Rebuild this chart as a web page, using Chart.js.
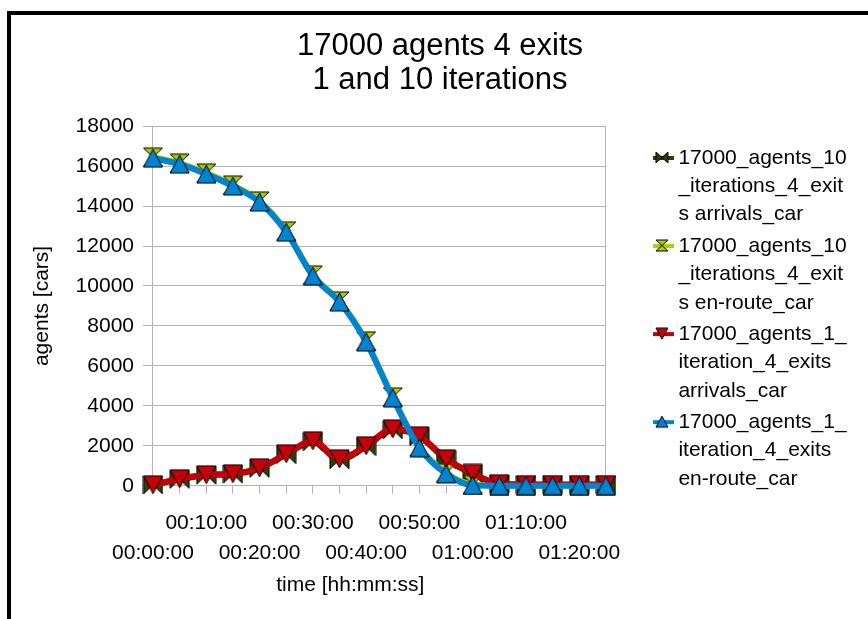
<!DOCTYPE html>
<html>
<head>
<meta charset="utf-8">
<script src="https://cdn.jsdelivr.net/npm/chart.js@4.4.6/dist/chart.umd.min.js"></script>
<style>
  html, body { margin: 0; padding: 0; background: #fff; overflow: hidden; }
</style>
</head>
<body>
<canvas id="chart" width="868" height="619"></canvas>
<script>
/* data, one point every 5 minutes */
const times = ["00:00:00", "00:05:00", "00:10:00", "00:15:00", "00:20:00", "00:25:00",
  "00:30:00", "00:35:00", "00:40:00", "00:45:00", "00:50:00", "00:55:00",
  "01:00:00", "01:05:00", "01:10:00", "01:15:00", "01:20:00", "01:25:00"];
const arrivals10 = [40, 320, 530, 580, 870, 1560, 2200, 1300, 1960, 2800, 2460, 1310, 600, 90, 50, 50, 50, 50];
const enroute10 = [16450, 16150, 15650, 15050, 14250, 12750, 10550, 9250, 7250, 4450, 1950, 650, 60, 10, 0, 0, 0, 0];
const arrivals1 = [50, 350, 550, 600, 900, 1600, 2250, 1350, 2000, 2850, 2500, 1350, 620, 100, 60, 60, 60, 60];
const enroute1 = [16400, 16100, 15600, 15000, 14200, 12700, 10500, 9200, 7200, 4400, 1900, 600, 20, 0, 0, 0, 0, 0];

const seriesNames = [
  ["17000_agents_10", "_iterations_4_exit", "s arrivals_car"],
  ["17000_agents_10", "_iterations_4_exit", "s en-route_car"],
  ["17000_agents_1_", "iteration_4_exits", "arrivals_car"],
  ["17000_agents_1_", "iteration_4_exits", "en-route_car"]
];
const colors = ["#314004", "#aecf00", "#c5000b", "#0084d1"];
const shapes = ["bowtie", "hourglass", "down", "up"];

const FONT = "'Liberation Sans', Arial, sans-serif";

/* marker symbols drawn on small canvases */
function shapePath(g, shape, x0, y0, w, h) {
  g.beginPath();
  if (shape === "up") {
    g.moveTo(x0 + w / 2, y0); g.lineTo(x0 + w, y0 + h); g.lineTo(x0, y0 + h); g.closePath();
  } else if (shape === "down") {
    g.moveTo(x0, y0); g.lineTo(x0 + w, y0); g.lineTo(x0 + w / 2, y0 + h); g.closePath();
  } else if (shape === "hourglass") {
    g.moveTo(x0, y0); g.lineTo(x0 + w, y0); g.lineTo(x0 + w / 2, y0 + h / 2); g.closePath();
    g.moveTo(x0 + w / 2, y0 + h / 2); g.lineTo(x0 + w, y0 + h); g.lineTo(x0, y0 + h); g.closePath();
  } else {
    g.moveTo(x0, y0); g.lineTo(x0 + w / 2, y0 + h / 2); g.lineTo(x0, y0 + h); g.closePath();
    g.moveTo(x0 + w, y0); g.lineTo(x0 + w / 2, y0 + h / 2); g.lineTo(x0 + w, y0 + h); g.closePath();
  }
}

function makeMarker(shape, fill, w, h) {
  const c = document.createElement("canvas");
  c.width = w + 2; c.height = h + 2;
  const g = c.getContext("2d");
  shapePath(g, shape, 1, 1, w, h);
  g.fillStyle = fill; g.fill();
  g.lineWidth = 1; g.strokeStyle = "#000"; g.stroke();
  return c;
}

function makeLegendIcon(shape, fill) {
  const c = document.createElement("canvas");
  c.width = 24; c.height = 14;
  const g = c.getContext("2d");
  g.fillStyle = fill;
  g.fillRect(0, 5, 24, 4);
  shapePath(g, shape, 6, 1, 12, 11);
  g.fill();
  g.lineWidth = 1; g.strokeStyle = "#000"; g.stroke();
  return c;
}

const markers = shapes.map((s, i) => makeMarker(s, colors[i], 19, 18));
const legendIcons = shapes.map((s, i) => makeLegendIcon(s, colors[i]));

function series(i, values) {
  return {
    label: seriesNames[i].join(""),
    data: values,
    borderColor: colors[i],
    backgroundColor: colors[i],
    borderWidth: 6,
    cubicInterpolationMode: "monotone",
    pointStyle: markers[i],
    pointRadius: 9,
    clip: false
  };
}

const framePlugin = {
  id: "frame",
  beforeDraw(chart) {
    const c = chart.ctx;
    c.save();
    c.fillStyle = "#fff";
    c.fillRect(0, 0, chart.width, chart.height);
    c.fillStyle = "#000";
    c.fillRect(7, 11, 4, chart.height - 11);
    c.fillRect(7, 11, chart.width - 7, 4);
    c.restore();
  }
};

const config = {
  type: "line",
  data: {
    labels: times,
    // drawing order: first dataset ends up on top
    datasets: [series(3, enroute1), series(2, arrivals1), series(1, enroute10), series(0, arrivals10)]
  },
  options: {
    responsive: false,
    animation: false,
    events: [],
    devicePixelRatio: 1,
    layout: { padding: { left: 27, right: 15, top: 10, bottom: 10 } },
    plugins: {
      title: {
        display: true,
        text: ["17000 agents 4 exits", "1 and 10 iterations"],
        color: "#000",
        font: { family: FONT, size: 31, weight: "normal", lineHeight: 1.1 },
        padding: { top: 19, bottom: 29 }
      },
      legend: {
        position: "right",
        align: "start",
        reverse: true,
        maxWidth: 215,
        title: { display: true, text: "", font: { size: 10, lineHeight: 1 }, padding: { top: 0, bottom: 124.5 } },
        labels: {
          color: "#000",
          font: { family: FONT, size: 21, lineHeight: 1.35 },
          usePointStyle: true,
          pointStyleWidth: 12,
          padding: 3,
          generateLabels(chart) {
            const items = Chart.defaults.plugins.legend.labels.generateLabels(chart);
            const order = [3, 2, 1, 0];
            items.forEach(it => {
              const k = order[it.datasetIndex];
              it.text = seriesNames[k];
              it.pointStyle = legendIcons[k];
            });
            return items;
          }
        }
      },
      tooltip: { enabled: false }
    },
    scales: {
      x: {
        ticks: {
          autoSkip: false,
          maxRotation: 0,
          color: "#000",
          font: { family: FONT, size: 21, lineHeight: 1.43 },
          padding: 14,
          callback(value, index) {
            if (index % 2 === 1) return "";
            return (index / 2) % 2 === 0 ? ["", times[index]] : [times[index], ""];
          }
        },
        grid: {
          color: ctx => ctx.index === times.length - 1 ? "#b3b3b3" : "rgba(0,0,0,0)",
          tickColor: "#b3b3b3",
          tickLength: 8
        },
        border: { color: "#b3b3b3" },
        title: {
          display: true,
          text: "time [hh:mm:ss]\u00a0\u00a0\u00a0\u00a0\u00a0\u00a0\u00a0\u00a0\u00a0\u00a0",
          color: "#000",
          font: { family: FONT, size: 21 },
          padding: { top: -9, bottom: 11 }
        }
      },
      y: {
        min: 0,
        max: 18000,
        ticks: {
          stepSize: 2000,
          color: "#000",
          font: { family: FONT, size: 21 },
          padding: 9,
          callback: v => String(v)
        },
        grid: { color: "#b3b3b3", tickLength: 10 },
        border: { color: "#b3b3b3" },
        title: {
          display: true,
          text: "agents [cars]",
          color: "#000",
          font: { family: FONT, size: 21 },
          padding: { top: 2.4, bottom: 12 }
        }
      },
      // empty spacer between plot and legend
      gap: {
        type: "linear",
        position: "right",
        display: true,
        grid: { display: false, drawTicks: false },
        border: { display: false },
        ticks: { display: false },
        afterFit(scale) { scale.width = 47; }
      }
    }
  },
  plugins: [framePlugin]
};

new Chart(document.getElementById("chart"), config);
</script>
</body>
</html>
